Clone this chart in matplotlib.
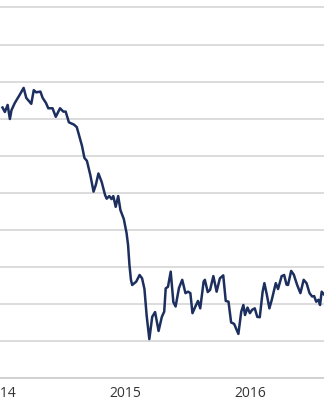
import matplotlib
matplotlib.use("Agg")
import matplotlib.pyplot as plt

# values (decimal year, index level)
years = [2014.020, 2014.039, 2014.061, 2014.079, 2014.092, 2014.118, 2014.157, 2014.189,
         2014.210, 2014.250, 2014.270, 2014.289, 2014.323, 2014.341, 2014.368, 2014.386,
         2014.420, 2014.446, 2014.480, 2014.506, 2014.525, 2014.551, 2014.591, 2014.614,
         2014.638, 2014.656, 2014.675, 2014.695, 2014.722, 2014.748, 2014.766, 2014.787,
         2014.813, 2014.840, 2014.853, 2014.874, 2014.892, 2014.906, 2014.925, 2014.945,
         2014.963, 2014.990, 2015.012, 2015.024, 2015.035, 2015.047, 2015.057, 2015.089,
         2015.116, 2015.136, 2015.155, 2015.173, 2015.194, 2015.217, 2015.240, 2015.268,
         2015.294, 2015.313, 2015.325, 2015.343, 2015.365, 2015.386, 2015.404, 2015.431,
         2015.457, 2015.483, 2015.504, 2015.522, 2015.539, 2015.561, 2015.583, 2015.601,
         2015.628, 2015.638, 2015.661, 2015.680, 2015.706, 2015.732, 2015.758, 2015.785,
         2015.805, 2015.827, 2015.848, 2015.872, 2015.906, 2015.929, 2015.946, 2015.959,
         2015.979, 2015.998, 2016.016, 2016.037, 2016.057, 2016.077, 2016.100, 2016.114,
         2016.134, 2016.154, 2016.173, 2016.205, 2016.223, 2016.252, 2016.272, 2016.291,
         2016.303, 2016.328, 2016.349, 2016.376, 2016.402, 2016.428, 2016.451, 2016.475,
         2016.496, 2016.512, 2016.528, 2016.546, 2016.559, 2016.572, 2016.591, 2016.610]
level = [73.0, 71.8, 73.7, 69.9, 72.3, 74.2, 76.4, 78.3,
         75.6, 74.0, 77.7, 77.1, 77.3, 75.6, 74.2, 72.8,
         72.8, 70.5, 72.8, 71.9, 71.9, 69.0, 68.4, 67.7,
         64.8, 62.6, 59.4, 58.6, 54.8, 50.3, 52.1, 55.2,
         52.9, 49.4, 48.4, 49.1, 48.3, 49.1, 46.2, 49.1,
         45.3, 42.9, 39.1, 35.9, 30.5, 26.5, 25.1, 26.0,
         27.8, 26.9, 24.0, 16.7, 10.5, 16.5, 17.8, 12.7,
         16.5, 17.9, 24.2, 24.6, 28.7, 20.5, 19.3, 24.3,
         26.5, 22.9, 23.3, 22.9, 17.5, 19.2, 20.8, 18.8,
         26.0, 26.5, 23.2, 23.8, 27.5, 23.3, 26.9, 27.7,
         20.8, 20.6, 15.0, 14.6, 11.9, 17.9, 19.7, 17.0,
         19.0, 17.5, 18.4, 18.8, 16.5, 16.4, 23.3, 25.6,
         22.4, 18.8, 21.1, 25.6, 24.0, 27.5, 27.8, 25.2,
         25.1, 28.9, 27.9, 25.1, 22.9, 26.5, 25.6, 22.9,
         22.0, 22.1, 20.6, 21.1, 19.7, 23.3, 22.5, 23.2]

tick_years = [2014, 2015, 2016]
tick_labels = ["2014", "2015", "2016"]

plt.rcParams["font.family"] = ["Open Sans", "DejaVu Sans"]

fig = plt.figure(figsize=(3.24, 4.0), dpi=100)
ax = fig.add_axes([0, 0.055, 1, 0.945])

ax.plot(years, level, color="#1c2f5e", linewidth=1.8, solid_joinstyle="round", zorder=3)

ax.set_xlim(2014.0394, 2016.5906)
ax.set_ylim(0, 102.02)

ax.set_yticks(range(0, 101, 10))
ax.yaxis.grid(True, color="#d6d6d6", linewidth=1.2)
ax.set_axisbelow(True)
ax.tick_params(axis="y", left=False, labelleft=False)

# x labels sit centred on the year start; the 2014 one is cut by the left edge like the original
ax.set_xticks(tick_years)
ax.set_xticklabels(tick_labels, fontsize=10, color="#333333")
ax.tick_params(axis="x", length=0, pad=6)

for side in ["top", "left", "right"]:
    ax.spines[side].set_visible(False)
ax.spines["bottom"].set_color("#cccccc")
ax.spines["bottom"].set_linewidth(1.2)

fig.savefig("out.png", dpi=100)
